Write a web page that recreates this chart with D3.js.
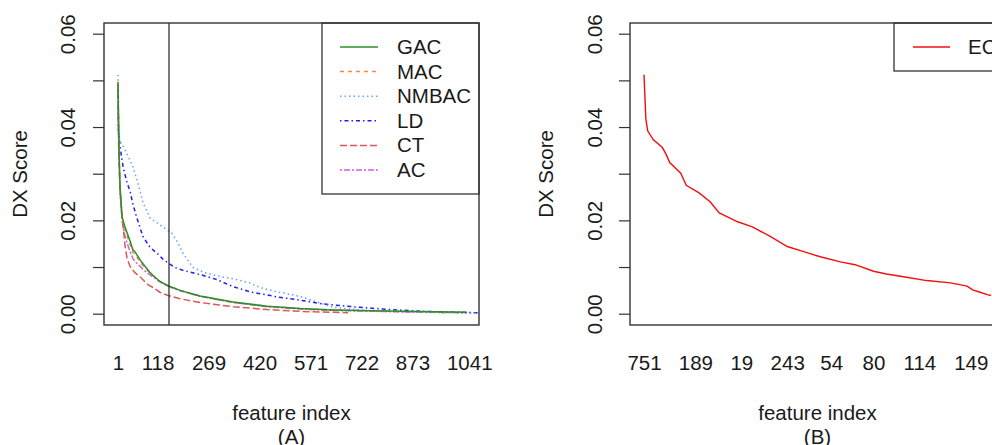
<!DOCTYPE html>
<meta charset="utf-8">
<script src="https://d3js.org/d3.v7.min.js"></script>
<style>
  body { margin: 0; background: #fff; }
  text { font-family: "Liberation Sans", Arial, sans-serif; fill: #1a1a1a; }
</style>
<div id="chart"></div>
<script>

// y axis ticks (same for both panels)
var yTicks = [0, 0.01, 0.02, 0.03, 0.04, 0.05, 0.06];

// panel A: feature index ticks and the cut-off line
var aTicks = [1, 118, 269, 420, 571, 722, 873, 1041];
var aCutoff = 152;

// panel A series (feature index, DX score)
var gacIdx = [1, 4, 7, 13, 22, 31, 37, 45, 51, 57, 66, 75, 96, 105, 125, 149, 185, 244, 342, 442, 540, 638, 836, 1034];
var gacVal = [0.0495, 0.035, 0.0272, 0.0208, 0.0185, 0.0167, 0.0155, 0.0137, 0.0133, 0.0126, 0.0116, 0.0107, 0.0088, 0.0082, 0.0069, 0.006, 0.005, 0.0038, 0.0025, 0.0016, 0.0011, 0.0008, 0.0005, 0.0003];

var macIdx = [1, 4, 7, 13, 22, 31, 37, 45, 57, 66, 75, 96, 125, 149, 185, 244, 342, 442, 540, 638, 836, 1034];
var macVal = [0.0492, 0.034, 0.027, 0.0205, 0.018, 0.016, 0.0148, 0.0132, 0.0121, 0.0112, 0.0103, 0.0087, 0.0069, 0.006, 0.005, 0.0038, 0.0024, 0.0016, 0.0011, 0.0008, 0.0005, 0.0003];

var nmbacIdx = [1, 2, 7, 22, 45, 60, 75, 96, 116, 146, 161, 176, 193, 223, 258, 294, 347, 392, 421, 472, 540, 638, 738, 895, 1067];
var nmbacVal = [0.0512, 0.0388, 0.037, 0.0351, 0.0315, 0.028, 0.0238, 0.0205, 0.0195, 0.018, 0.0172, 0.0155, 0.013, 0.0099, 0.0088, 0.0081, 0.0074, 0.0066, 0.0056, 0.0047, 0.0037, 0.0014, 0.0006, 0.0003, 0.0001];

var ldIdx = [1, 2, 7, 16, 28, 37, 45, 57, 75, 96, 116, 134, 149, 170, 193, 244, 294, 342, 392, 472, 540, 608, 709, 806, 904, 1067];
var ldVal = [0.048, 0.0394, 0.0358, 0.0315, 0.028, 0.0262, 0.0235, 0.0205, 0.0165, 0.0142, 0.013, 0.0117, 0.0109, 0.0099, 0.0093, 0.0084, 0.0073, 0.0058, 0.0047, 0.0036, 0.0029, 0.0021, 0.0014, 0.0009, 0.0005, 0.0002];

var ctIdx = [1, 3, 7, 13, 22, 28, 37, 51, 66, 90, 105, 125, 149, 185, 244, 342, 442, 540, 682];
var ctVal = [0.0497, 0.035, 0.0266, 0.0208, 0.0145, 0.0118, 0.0101, 0.0088, 0.0079, 0.0062, 0.0056, 0.0046, 0.0039, 0.0032, 0.0024, 0.0015, 0.0009, 0.0005, 0.0002];

var acIdx = [1, 4, 7, 13, 22, 31, 37, 45, 57, 66, 75, 96, 125, 149, 185, 244, 342, 442, 540, 638, 836, 1034];
var acVal = [0.049, 0.034, 0.026, 0.02, 0.0165, 0.0145, 0.0133, 0.0118, 0.0108, 0.0102, 0.0095, 0.0083, 0.0068, 0.0059, 0.0049, 0.0037, 0.0024, 0.0015, 0.001, 0.0007, 0.0004, 0.0002];

// panel B: ranked features, tick labels are feature ids
var bTicks = [1, 29, 54, 79, 103, 126, 151, 179];
var bTickLabels = ["751", "189", "19", "243", "54", "80", "114", "149"];

var ecRank = [1, 2, 3, 6, 11, 13, 15, 21, 24, 31, 37, 42, 52, 60, 70, 79, 88, 97, 108, 116, 126, 133, 144, 155, 168, 177, 180, 184, 188, 190];
var ecVal = [0.0512, 0.0418, 0.0392, 0.0373, 0.0356, 0.0342, 0.0324, 0.0301, 0.0275, 0.0259, 0.024, 0.0216, 0.0197, 0.0186, 0.0165, 0.0144, 0.0133, 0.0122, 0.0111, 0.0105, 0.0091, 0.0085, 0.0078, 0.0071, 0.0066, 0.0059, 0.0051, 0.0046, 0.0041, 0.0039];

var seriesA = [
  {name: "GAC",   idx: gacIdx,   val: gacVal,   color: "#2a8f2a", dash: null},
  {name: "MAC",   idx: macIdx,   val: macVal,   color: "#f58a40", dash: "4,4"},
  {name: "NMBAC", idx: nmbacIdx, val: nmbacVal, color: "#5fa6f5", dash: "1.5,3"},
  {name: "LD",    idx: ldIdx,    val: ldVal,    color: "#1f1ff5", dash: "1.5,3,4,3"},
  {name: "CT",    idx: ctIdx,    val: ctVal,    color: "#dd5858", dash: "7,3"},
  {name: "AC",    idx: acIdx,    val: acVal,    color: "#cc60dd", dash: "2,2,6,2"}
];

var W = 992, H = 445;
var fs = 20.5;

var svg = d3.select("#chart")
  .append("svg")
    .attr("width", W)
    .attr("height", H);

var plotTop = 23, plotBottom = 325;

var y = d3.scaleLinear().domain([0, 0.06]).range([313.7, 33.7]);
var xA = d3.scaleLinear().domain([1, 1067]).range([118, 478]);
var xB = d3.scaleLinear().domain([1, 190]).range([644, 991]);

// draws the y axis with R-style rotated labels
function yAxis(left, labelX, titleX) {
  var g = svg.append("g")
    .attr("transform", "translate(" + left + ",0)")
    .call(d3.axisLeft(y).tickValues(yTicks).tickSize(11).tickSizeOuter(0)
      .tickFormat((d, i) => i % 2 === 0 ? d3.format(".2f")(d) : ""));
  g.select(".domain").remove();
  g.selectAll(".tick line").attr("stroke", "#333").attr("stroke-width", 1.2);
  g.selectAll(".tick text")
    .attr("transform", "rotate(-90)")
    .attr("x", 0)
    .attr("y", labelX - left)
    .attr("dy", 0)
    .attr("text-anchor", "middle")
    .style("font-size", fs + "px")
    .style("font-family", "'Liberation Sans', Arial, sans-serif")
    .attr("fill", "#1a1a1a");
  svg.append("text")
    .attr("transform", "translate(" + titleX + "," + ((plotTop + plotBottom) / 2) + ") rotate(-90)")
    .attr("text-anchor", "middle")
    .style("font-size", fs + "px")
    .text("DX Score");
}

function xAxis(scale, ticks, labels) {
  var ax = d3.axisBottom(scale).tickValues(ticks).tickSize(0)
    .tickFormat(labels ? (d, i) => labels[i] : d3.format("d"));
  var g = svg.append("g")
    .attr("transform", "translate(0," + plotBottom + ")")
    .call(ax);
  g.select(".domain").remove();
  g.selectAll(".tick text")
    .attr("y", 44.5)
    .attr("dy", 0)
    .style("font-size", fs + "px")
    .style("font-family", "'Liberation Sans', Arial, sans-serif")
    .attr("fill", "#1a1a1a");
}

function titles(cx, letter) {
  svg.append("text")
    .attr("x", cx).attr("y", 419.5)
    .attr("text-anchor", "middle")
    .style("font-size", fs + "px")
    .text("feature index");
  svg.append("text")
    .attr("x", cx).attr("y", 444)
    .attr("text-anchor", "middle")
    .style("font-size", fs + "px")
    .text("(" + letter + ")");
}

var line = function(sx) {
  return d3.line().x(d => sx(d[0])).y(d => y(d[1]));
};

// ---- panel A ----
var boxA = {x0: 104, x1: 479};

var gA = svg.append("g");
gA.selectAll(".serie")
  .data(seriesA.slice().reverse())
  .join("path")
    .attr("class", "serie")
    .attr("d", d => line(xA)(d3.zip(d.idx, d.val)))
    .attr("fill", "none")
    .attr("stroke", d => d.color)
    .attr("stroke-width", 1.5)
    .attr("stroke-dasharray", d => d.dash);

svg.append("line")
  .attr("x1", xA(aCutoff)).attr("x2", xA(aCutoff))
  .attr("y1", plotTop).attr("y2", plotBottom)
  .attr("stroke", "#222").attr("stroke-width", 1.2);

// legend A
var legA = svg.append("g");
legA.append("rect")
  .attr("x", 322).attr("y", plotTop)
  .attr("width", boxA.x1 - 322).attr("height", 194 - plotTop)
  .attr("fill", "#fff").attr("stroke", "#333").attr("stroke-width", 1.3);
var rows = legA.selectAll(".row")
  .data(seriesA)
  .join("g")
    .attr("class", "row")
    .attr("transform", (d, i) => "translate(0," + (47 + i * 24.6) + ")");
rows.append("line")
  .attr("x1", 340).attr("x2", 378)
  .attr("stroke", d => d.color)
  .attr("stroke-width", 1.5)
  .attr("stroke-dasharray", d => d.dash);
rows.append("text")
  .attr("x", 397).attr("y", 7)
  .style("font-size", fs + "px")
  .text(d => d.name);

svg.append("rect")
  .attr("x", boxA.x0).attr("y", plotTop)
  .attr("width", boxA.x1 - boxA.x0).attr("height", plotBottom - plotTop)
  .attr("fill", "none").attr("stroke", "#333").attr("stroke-width", 1.4);

yAxis(boxA.x0, 75, 27.3);
xAxis(xA, aTicks, null);
titles((boxA.x0 + boxA.x1) / 2, "A");

// ---- panel B ----
var boxB = {x0: 630, x1: 1005};

svg.append("path")
  .attr("d", line(xB)(d3.zip(ecRank, ecVal)))
  .attr("fill", "none")
  .attr("stroke", "#f01010")
  .attr("stroke-width", 1.4);

svg.append("rect")
  .attr("x", 894).attr("y", plotTop)
  .attr("width", boxB.x1 - 894).attr("height", 71 - plotTop)
  .attr("fill", "#fff").attr("stroke", "#333").attr("stroke-width", 1.3);
svg.append("line")
  .attr("x1", 913).attr("x2", 950)
  .attr("y1", 47).attr("y2", 47)
  .attr("stroke", "#f01010").attr("stroke-width", 1.4);
svg.append("text")
  .attr("x", 968).attr("y", 54)
  .style("font-size", fs + "px")
  .text("EC");

svg.append("rect")
  .attr("x", boxB.x0).attr("y", plotTop)
  .attr("width", boxB.x1 - boxB.x0).attr("height", plotBottom - plotTop)
  .attr("fill", "none").attr("stroke", "#333").attr("stroke-width", 1.4);

yAxis(boxB.x0, 601.5, 553.3);
xAxis(xB, bTicks, bTickLabels);
titles((boxB.x0 + boxB.x1) / 2, "B");

</script>
